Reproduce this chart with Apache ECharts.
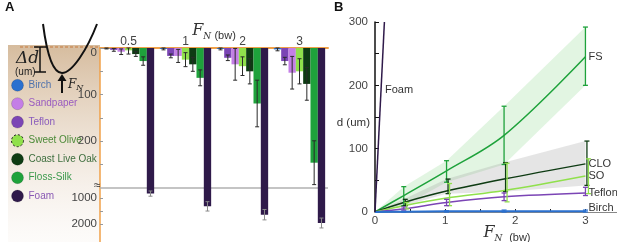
<!DOCTYPE html>
<html>
<head>
<meta charset="utf-8">
<script src="https://cdn.jsdelivr.net/npm/echarts@6/dist/echarts.min.js"></script>
<style>
  html, body { margin: 0; padding: 0; background: #fff; }
  #chart { width: 617px; height: 242px; }
</style>
</head>
<body>
<div id="chart"></div>
<script>
// ---- panel A: indentation depth per force, bars ----
const CATS = ['0.5', '1', '2', '3']
const MATERIALS = ['Birch', 'Teflon', 'Sandpaper', 'Sweet Olive', 'Coast Live Oak', 'Floss-Silk', 'Foam']
const LEGEND_ORDER = ['Birch', 'Sandpaper', 'Teflon', 'Sweet Olive', 'Coast Live Oak', 'Floss-Silk', 'Foam']

const BIRCH = [1, 2, 2, 3]
const TEFLON = [4, 17, 21, 28]
const SANDPAPER = [8, 17, 35, 53]
const SWEET_OLIVE = [5, 25, 39, 50]
const COAST_LIVE_OAK = [13, 35, 50, 77]
const FLOSS_SILK = [28, 64, 119, 246]
const FOAM = [840, 1330, 1650, 1970]

const BIRCH_ERR = [1, 2, 2, 3]
const TEFLON_ERR = [3, 4, 6, 8]
const SANDPAPER_ERR = [6, 14, 34, 35]
const SWEET_OLIVE_ERR = [8, 15, 20, 27]
const COAST_LIVE_OAK_ERR = [5, 15, 27, 35]
const FLOSS_SILK_ERR = [9, 17, 50, 47]
const FOAM_ERR = [100, 180, 200, 190]

const VALUES = [BIRCH, TEFLON, SANDPAPER, SWEET_OLIVE, COAST_LIVE_OAK, FLOSS_SILK, FOAM]
const ERRS = [BIRCH_ERR, TEFLON_ERR, SANDPAPER_ERR, SWEET_OLIVE_ERR, COAST_LIVE_OAK_ERR, FLOSS_SILK_ERR, FOAM_ERR]

const A_LABELS = [0, 100, 200, 1000, 2000]
const A_TICKS = [0, 50, 100, 150, 200, 250, 1000, 1500, 2000]

// ---- panel B: depth vs force, fits ----
const B_F = [0, 0.41, 1.02, 1.84, 3]
const FS_FIT = [0, 26, 65, 121, 245]
const FS_LO = [0, 10, 47, 75, 200]
const FS_HI = [0, 40, 81, 167, 292]
const CLO_FIT = [0, 15, 33, 52, 76]
const CLO_LO = [0, 10, 29, 32, 42]
const CLO_HI = [0, 20, 52, 78, 112]
const SO_FIT = [0, 10, 22, 34, 57]
const SO_LO = [0, 5, 10, 16, 29]
const SO_HI = [0, 15, 45, 77, 84]
const TEF_FIT = [0, 5, 15, 24, 30]
const TEF_LO = [0, 3, 10, 18, 26]
const TEF_HI = [0, 8, 20, 30, 39]
const BIRCH_FIT = [0, 0.5, 1, 1, 1]
const BIRCH_LO = [0, 0, 0, 0, 0]
const BIRCH_HI = [0, 1, 2, 3, 3]
const FOAM_F = [0, 0.134]
const FOAM_FIT = [0, 300]

const COLORS = {
  'Birch': '#2a70cf',
  'Sandpaper': '#c47ee6',
  'Teflon': '#7b45b5',
  'Sweet Olive': '#90e04c',
  'Coast Live Oak': '#0e3b13',
  'Floss-Silk': '#1ea23b',
  'Foam': '#2f1a4a',
}
const TEXT_COLORS = {
  'Birch': '#4f73ad',
  'Sandpaper': '#9a5cc0',
  'Teflon': '#8a5cbc',
  'Sweet Olive': '#4c8a38',
  'Coast Live Oak': '#3e6e3e',
  'Floss-Silk': '#3c9a4c',
  'Foam': '#8a5ab4',
}
const FONT = 'Liberation Sans, Arial, sans-serif'
const SERIF = 'DejaVu Serif, serif'

// broken axis: 0-300 linear, then compressed from 620 on
const BREAK_AT = 300
const RESUME_AT = 620
const LOW_SCALE = 0.0558
function toAxis(v) { return v <= BREAK_AT ? v : BREAK_AT + (v - RESUME_AT) * LOW_SCALE }
function fromAxis(d) { return d <= BREAK_AT ? d : RESUME_AT + (d - BREAK_AT) / LOW_SCALE }

const aErrData = []
MATERIALS.forEach((m, mi) => VALUES[mi].forEach((v, ci) => {
  const e = ERRS[mi][ci]
  aErrData.push([ci, toAxis(Math.max(0, v - e)), toAxis(v + e), mi])
}))

const barSeries = MATERIALS.map((m, mi) => ({
  name: m,
  type: 'bar',
  xAxisIndex: 0,
  yAxisIndex: 0,
  barGap: '0%',
  barCategoryGap: '10%',
  itemStyle: { color: COLORS[m] },
  data: VALUES[mi].map(toAxis),
  markLine: mi === 0
    ? {
        silent: true,
        symbol: 'none',
        z: 1,
        label: { show: false },
        lineStyle: { color: '#b0b0b0', width: 1.5, type: 'solid' },
        data: [{ yAxis: BREAK_AT }],
      }
    : undefined,
}))

const aErrSeries = {
  type: 'custom',
  xAxisIndex: 0,
  yAxisIndex: 0,
  silent: true,
  z: 5,
  data: aErrData,
  renderItem(params, api) {
    const ci = api.value(0)
    const mi = api.value(3)
    const lo = api.coord([ci, api.value(1)])
    const hi = api.coord([ci, api.value(2)])
    const bw = api.size([1, 0])[0]
    const barW = bw * 0.9 / 7
    const x = lo[0] - bw * 0.45 + (mi + 0.5) * barW
    const stroke = mi === 6 ? '#8a8a8a' : '#2a2a2a'
    const cap = 2
    return {
      type: 'group',
      children: [
        { type: 'line', shape: { x1: x, y1: lo[1], x2: x, y2: hi[1] }, style: { stroke, lineWidth: 1 } },
        { type: 'line', shape: { x1: x - cap, y1: lo[1], x2: x + cap, y2: lo[1] }, style: { stroke, lineWidth: 1 } },
        { type: 'line', shape: { x1: x - cap, y1: hi[1], x2: x + cap, y2: hi[1] }, style: { stroke, lineWidth: 1 } },
      ],
    }
  },
}

// panel B helpers
function bandSeries(upper, lower, fill) {
  return {
    type: 'custom',
    xAxisIndex: 1,
    yAxisIndex: 1,
    silent: true,
    z: 1,
    data: [[0, 0]],
    renderItem(params, api) {
      const pts = B_F.map((f, i) => api.coord([f, upper[i]]))
        .concat(B_F.map((f, i) => api.coord([f, lower[i]])).reverse())
      return { type: 'polygon', shape: { points: pts }, style: { fill } }
    },
  }
}

function fitLine(key, xs, ys, label, width, labelOffset) {
  return {
    name: key + ' fit',
    type: 'line',
    xAxisIndex: 1,
    yAxisIndex: 1,
    smooth: 0.35,
    showSymbol: false,
    silent: true,
    z: 3,
    lineStyle: { color: COLORS[key], width },
    itemStyle: { color: COLORS[key] },
    data: xs.map((f, i) => [f, ys[i]]),
    endLabel: label
      ? { show: true, formatter: label, color: '#333', fontSize: 11, fontFamily: FONT, distance: 3, offset: labelOffset || [0, 0] }
      : undefined,
  }
}

const bErrData = []
const B_GROUPS = [
  ['Floss-Silk', FS_LO, FS_HI, 0],
  ['Coast Live Oak', CLO_LO, CLO_HI, 1.5],
  ['Sweet Olive', SO_LO, SO_HI, 3],
  ['Teflon', TEF_LO, TEF_HI, 0],
  ['Birch', BIRCH_LO, BIRCH_HI, 0],
]
B_GROUPS.forEach(([key, lo, hi, dx], gi) => {
  B_F.forEach((f, i) => {
    if (i > 0) bErrData.push([f, lo[i], hi[i], gi])
  })
})

const bErrSeries = {
  type: 'custom',
  xAxisIndex: 1,
  yAxisIndex: 1,
  silent: true,
  z: 4,
  data: bErrData,
  renderItem(params, api) {
    const g = B_GROUPS[api.value(3)]
    const lo = api.coord([api.value(0), api.value(1)])
    const hi = api.coord([api.value(0), api.value(2)])
    const x = lo[0] + g[3]
    const stroke = COLORS[g[0]]
    const cap = 2.5
    const style = { stroke, lineWidth: 1.3 }
    return {
      type: 'group',
      children: [
        { type: 'line', shape: { x1: x, y1: lo[1], x2: x, y2: hi[1] }, style },
        { type: 'line', shape: { x1: x - cap, y1: lo[1], x2: x + cap, y2: lo[1] }, style },
        { type: 'line', shape: { x1: x - cap, y1: hi[1], x2: x + cap, y2: hi[1] }, style },
      ],
    }
  },
}

const fnName = {
  f: { fontFamily: SERIF, fontStyle: 'italic', fontSize: 16, color: '#333', lineHeight: 20 },
  n: { fontFamily: SERIF, fontStyle: 'italic', fontSize: 9, color: '#333', lineHeight: 13, verticalAlign: 'bottom' },
  u: { fontFamily: FONT, fontSize: 11, color: '#333', lineHeight: 13, verticalAlign: 'bottom' },
}

const chart = echarts.init(document.getElementById('chart'), null, { renderer: 'canvas' })
chart.setOption({
  animation: false,
  backgroundColor: '#fff',
  textStyle: { fontFamily: FONT },
  grid: [
    { left: 100, top: 48, width: 228, height: 194, outerBoundsMode: 'none' },
    { left: 375, top: 22, width: 242, height: 190, outerBoundsMode: 'none' },
  ],
  legend: {
    orient: 'vertical',
    left: 11,
    top: 79,
    padding: 0,
    itemWidth: 12,
    itemHeight: 12,
    itemGap: 5.8,
    icon: 'circle',
    selectedMode: false,
    textStyle: { fontSize: 10, fontFamily: FONT },
    data: LEGEND_ORDER.map(m => ({
      name: m,
      textStyle: { color: TEXT_COLORS[m] },
      itemStyle: m === 'Sweet Olive'
        ? { borderColor: '#222', borderWidth: 1, borderType: [2, 2] }
        : { borderColor: 'rgba(0,0,0,0.25)', borderWidth: 0.6 },
    })),
  },
  xAxis: [
    {
      type: 'category',
      gridIndex: 0,
      position: 'top',
      data: CATS,
      axisLine: { lineStyle: { color: '#f0a048', width: 2 } },
      axisTick: { show: false },
      axisLabel: { color: '#444', fontSize: 12, margin: 0 },
      name: '{f|F}{n|N} {u|(bw)}',
      nameLocation: 'middle',
      nameGap: 7,
      nameMoveOverlap: false,
      nameTextStyle: { rich: fnName },
    },
    {
      type: 'value',
      gridIndex: 1,
      min: 0,
      max: 3.45,
      axisLine: { onZero: true, lineStyle: { color: '#888', width: 1 } },
      axisTick: { inside: true, length: 3, customValues: [0.5, 1, 1.5, 2, 2.5, 3], lineStyle: { color: '#222' } },
      axisLabel: { customValues: [0, 1, 2, 3], color: '#444', fontSize: 11.5, margin: 3 },
      splitLine: { show: false },
      name: '{f|F}{n|N}  {u|(bw)}',
      nameLocation: 'middle',
      nameGap: 11,
      nameMoveOverlap: false,
      nameTextStyle: { rich: fnName, padding: [0, 0, 0, 22] },
    },
  ],
  yAxis: [
    {
      type: 'value',
      gridIndex: 0,
      inverse: true,
      min: 0,
      max: toAxis(2700),
      axisLine: { show: true, onZero: false, lineStyle: { color: '#f0a048', width: 1.5 } },
      axisTick: { show: true, inside: true, length: 3, customValues: A_TICKS.map(toAxis), lineStyle: { color: '#999' } },
      axisLabel: {
        customValues: A_LABELS.map(toAxis),
        formatter: v => v === 0 ? '{z|0}' : String(Math.round(fromAxis(v) / 10) * 10),
        color: '#444',
        fontSize: 11.5,
        margin: 3,
        rich: { z: { fontSize: 11.5, color: '#444', padding: [10, 0, 0, 0] } },
      },
      splitLine: { show: false },
    },
    {
      type: 'value',
      gridIndex: 1,
      min: 0,
      max: 300,
      interval: 100,
      axisLine: { show: true, lineStyle: { color: '#111', width: 1.5 } },
      axisTick: { show: true, inside: true, length: 4, customValues: [0, 50, 100, 150, 200, 250, 300], lineStyle: { color: '#111' } },
      axisLabel: { color: '#444', fontSize: 11.5, margin: 7 },
      splitLine: { show: false },
      name: 'd (um)',
      nameLocation: 'middle',
      nameRotate: 0,
      nameGap: 5,
      nameMoveOverlap: false,
      nameTextStyle: { color: '#333', fontSize: 11.5, verticalAlign: 'top' },
    },
  ],
  series: [
    ...barSeries,
    aErrSeries,
    bandSeries(FS_HI, FS_LO, 'rgba(150, 220, 150, 0.28)'),
    bandSeries(CLO_HI, CLO_LO, 'rgba(150, 150, 150, 0.25)'),
    fitLine('Floss-Silk', B_F, FS_FIT, 'FS', 1.5),
    fitLine('Coast Live Oak', B_F, CLO_FIT, 'CLO', 1.5),
    fitLine('Sweet Olive', B_F, SO_FIT, 'SO', 1.5),
    fitLine('Teflon', B_F, TEF_FIT, 'Teflon', 1.5),
    fitLine('Birch', B_F, BIRCH_FIT, 'Birch', 2, [0, -3]),
    {
      ...fitLine('Foam', FOAM_F, FOAM_FIT, null, 1.5),
      smooth: false,
      markPoint: {
        symbol: 'circle',
        symbolSize: 0,
        silent: true,
        data: [{ coord: [0.1, 192] }],
        label: { show: true, position: 'right', distance: 3, formatter: 'Foam', color: '#333', fontSize: 11, fontFamily: FONT },
      },
    },
    bErrSeries,
  ],
  graphic: [
    {
      type: 'rect',
      shape: { x: 8, y: 45, width: 92, height: 197 },
      style: {
        fill: new echarts.graphic.LinearGradient(0, 0, 0, 1, [
          { offset: 0, color: 'rgba(200, 165, 125, 0.75)' },
          { offset: 0.5, color: 'rgba(222, 200, 176, 0.5)' },
          { offset: 1, color: 'rgba(240, 230, 220, 0.15)' },
        ]),
      },
      z: -10,
    },
    { type: 'line', shape: { x1: 20, y1: 47, x2: 100, y2: 47 }, style: { stroke: '#c8783a', lineWidth: 1.2, lineDash: [3, 2] }, z: 1 },
    { type: 'bezierCurve', shape: { x1: 43, y1: 24, cpx1: 47, cpy1: 55, cpx2: 53, cpy2: 73, x2: 62, y2: 73 }, style: { stroke: '#111', lineWidth: 2, fill: null }, z: 2 },
    { type: 'bezierCurve', shape: { x1: 62, y1: 73, cpx1: 72, cpy1: 73, cpx2: 87, cpy2: 50, x2: 97, y2: 24 }, style: { stroke: '#111', lineWidth: 2, fill: null }, z: 2 },
    { type: 'line', shape: { x1: 62, y1: 93, x2: 62, y2: 80 }, style: { stroke: '#111', lineWidth: 2 }, z: 2 },
    { type: 'polygon', shape: { points: [[57.5, 81], [66.5, 81], [62, 74]] }, style: { fill: '#111' }, z: 2 },
    {
      type: 'text', x: 68, y: 78, z: 2,
      style: { text: '{f|F}{n|N}', rich: { f: { fontFamily: SERIF, fontStyle: 'italic', fontSize: 12, fill: '#222', lineHeight: 14 }, n: { fontFamily: SERIF, fontStyle: 'italic', fontSize: 8, fill: '#222', lineHeight: 10, verticalAlign: 'bottom' } } },
    },
    { type: 'line', shape: { x1: 40, y1: 47, x2: 40, y2: 72 }, style: { stroke: '#111', lineWidth: 1.5 }, z: 2 },
    { type: 'line', shape: { x1: 34, y1: 47, x2: 46, y2: 47 }, style: { stroke: '#111', lineWidth: 1.5 }, z: 2 },
    { type: 'line', shape: { x1: 34, y1: 72, x2: 46, y2: 72 }, style: { stroke: '#111', lineWidth: 1.5 }, z: 2 },
    { type: 'text', x: 16, y: 50, z: 2, style: { text: 'Δd', font: 'italic 17px ' + SERIF, fill: '#222' } },
    { type: 'text', x: 15, y: 67, z: 2, style: { text: '(um)', font: '10px ' + FONT, fill: '#222' } },
    { type: 'text', x: 94, y: 180, z: 6, style: { text: '≈', font: '12px ' + FONT, fill: '#333' } },
    { type: 'text', x: 5, y: 1, z: 2, style: { text: 'A', font: 'bold 13px ' + FONT, fill: '#111' } },
    { type: 'text', x: 334, y: 1, z: 2, style: { text: 'B', font: 'bold 13px ' + FONT, fill: '#111' } },
  ],
})
</script>
</body>
</html>
